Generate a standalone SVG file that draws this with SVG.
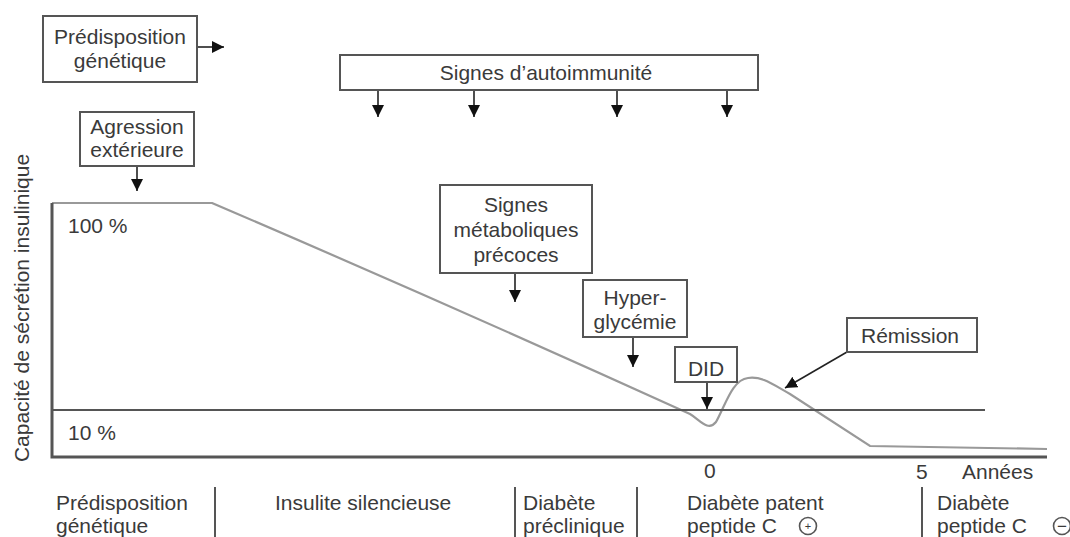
<svg xmlns="http://www.w3.org/2000/svg" width="1070" height="537" viewBox="0 0 1070 537">
<defs>
<marker id="ah" markerUnits="userSpaceOnUse" markerWidth="12" markerHeight="12" viewBox="0 0 10 10" refX="10" refY="5" orient="auto">
<path d="M0,0 L10,5 L0,10 z" fill="#111"/>
</marker>
<style>
text{font-family:"Liberation Sans",Arial,sans-serif;font-size:21px;fill:#3a3a3a}
.c{text-anchor:middle}
.box{fill:#fff;stroke:#555;stroke-width:2}
.arr{stroke:#222;stroke-width:1.6;fill:none;marker-end:url(#ah)}
.axis{stroke:#555;stroke-width:3;fill:none}
.ref{stroke:#555;stroke-width:2;fill:none}
.curve{stroke:#999;stroke-width:2.2;fill:none}
.sep{stroke:#555;stroke-width:2}
</style>
</defs>
<rect width="1070" height="537" fill="#fff"/>

<g id="axes">
<path class="curve" d="M52,203 L212,203 Q450,305 690,414 C700,420 708,432 716,422 C726,404 732,380 748,378 C762,376 772,384 790,394 L870,446 L1047,449"/>
<line class="ref" x1="52" y1="410" x2="985" y2="410"/>
<path class="axis" d="M52,203 L52,457 L1047,457"/>
<text transform="translate(29,308) rotate(-90)" class="c">Capacité de sécrétion insulinique</text>
<text x="68" y="233">100 %</text>
<text x="68" y="440">10 %</text>
<text x="704" y="478">0</text>
<text x="916" y="479">5</text>
<text x="962" y="479">Années</text>
</g>

<g id="connectors">
<line class="arr" x1="197" y1="47" x2="224" y2="47"/>
<line class="arr" x1="137" y1="166" x2="137" y2="191"/>
<line class="arr" x1="378" y1="90" x2="378" y2="117"/>
<line class="arr" x1="474" y1="90" x2="474" y2="117"/>
<line class="arr" x1="617" y1="90" x2="617" y2="117"/>
<line class="arr" x1="727" y1="90" x2="727" y2="117"/>
<line class="arr" x1="515" y1="273" x2="515" y2="302"/>
<line class="arr" x1="633" y1="337" x2="633" y2="367"/>
<line class="arr" x1="707" y1="382" x2="707" y2="409"/>
<line class="arr" x1="847" y1="352" x2="785" y2="388"/>
</g>

<g id="n-predisposition">
<rect class="box" x="43" y="16" width="154" height="66"/>
<text class="c" x="120" y="44">Prédisposition</text>
<text class="c" x="120" y="68">génétique</text>
</g>
<g id="n-agression">
<rect class="box" x="80" y="112" width="114" height="54"/>
<text class="c" x="137" y="134">Agression</text>
<text class="c" x="137" y="157">extérieure</text>
</g>
<g id="n-autoimmunite">
<rect class="box" x="340" y="55" width="418" height="35"/>
<text class="c" x="546" y="80">Signes d’autoimmunité</text>
</g>
<g id="n-metaboliques">
<rect class="box" x="440" y="185" width="152" height="88"/>
<text class="c" x="516" y="212">Signes</text>
<text class="c" x="516" y="237">métaboliques</text>
<text class="c" x="516" y="262">précoces</text>
</g>
<g id="n-hyperglycemie">
<rect class="box" x="583" y="280" width="104" height="57"/>
<text class="c" x="635" y="305">Hyper-</text>
<text class="c" x="635" y="329">glycémie</text>
</g>
<g id="n-did">
<rect class="box" x="675" y="347" width="62" height="35"/>
<text class="c" x="706" y="376">DID</text>
</g>
<g id="n-remission">
<rect class="box" x="847" y="318" width="130" height="34"/>
<text class="c" x="910" y="343">Rémission</text>
</g>

<g id="phases">
<line class="sep" x1="215" y1="487" x2="215" y2="537"/>
<line class="sep" x1="515" y1="487" x2="515" y2="537"/>
<line class="sep" x1="637" y1="487" x2="637" y2="537"/>
<line class="sep" x1="922" y1="487" x2="922" y2="537"/>
<text x="56" y="510">Prédisposition</text>
<text x="56" y="533">génétique</text>
<text x="275" y="510">Insulite silencieuse</text>
<text x="523" y="510">Diabète</text>
<text x="523" y="533">préclinique</text>
<text x="687" y="510">Diabète patent</text>
<text x="687" y="533">peptide C</text>
<circle cx="808" cy="526" r="8.5" fill="none" stroke="#555" stroke-width="1.6"/>
<text class="c" x="808" y="530" style="font-size:11px">+</text>
<text x="937" y="510">Diabète</text>
<text x="937" y="533">peptide C</text>
<circle cx="1062" cy="526" r="8.5" fill="none" stroke="#555" stroke-width="1.6"/>
<text class="c" x="1062" y="532" style="font-size:17px">−</text>
</g>
</svg>
